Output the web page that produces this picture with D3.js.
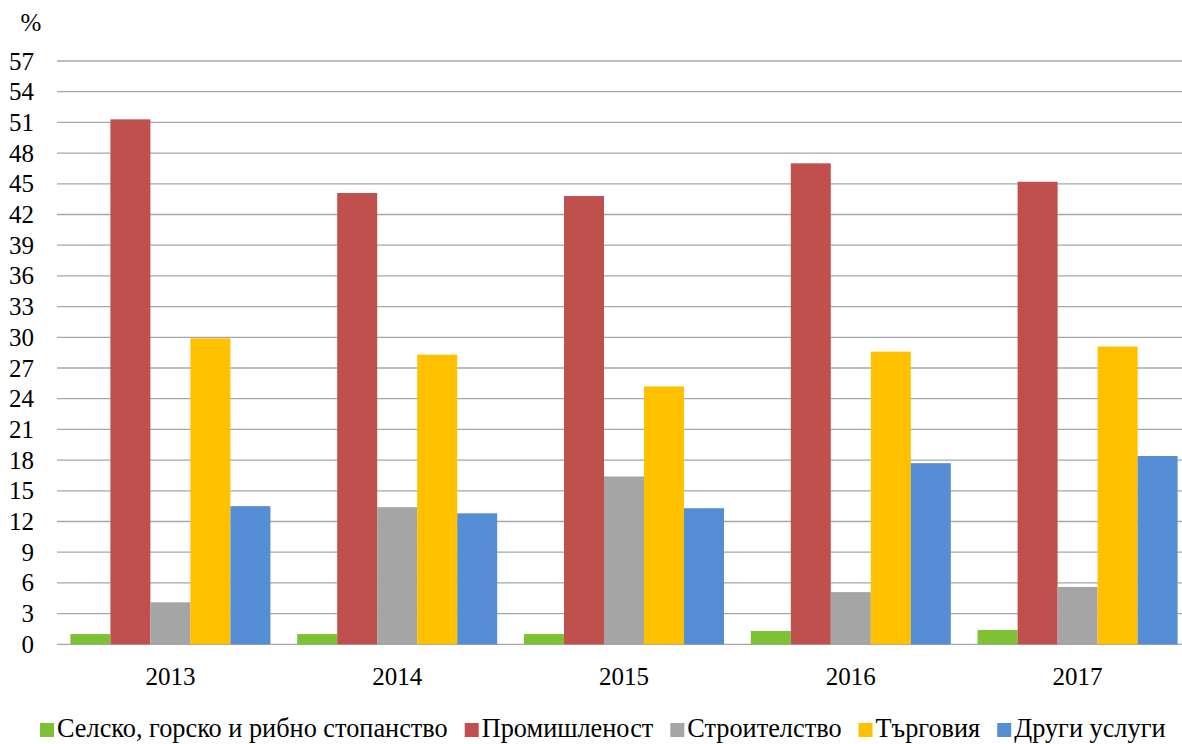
<!DOCTYPE html>
<html>
<head>
<meta charset="utf-8">
<script src="https://cdn.jsdelivr.net/npm/d3@7"></script>
<style>
  body { margin: 0; background: #fff; }
</style>
</head>
<body>
<div id="graph-container"></div>
<script>
const years = ["2013", "2014", "2015", "2016", "2017"];
const seriesNames = [
  "Селско, горско и рибно стопанство",
  "Промишленост",
  "Строителство",
  "Търговия",
  "Други услуги",
];
const agriculture = [1.0, 1.0, 1.0, 1.3, 1.4];
const industry = [51.3, 44.1, 43.8, 47.0, 45.2];
const construction = [4.1, 13.4, 16.4, 5.1, 5.6];
const trade = [29.9, 28.3, 25.2, 28.6, 29.1];
const otherServices = [13.5, 12.8, 13.3, 17.7, 18.4];
const yTicks = [0, 3, 6, 9, 12, 15, 18, 21, 24, 27, 30, 33, 36, 39, 42, 45, 48, 51, 54, 57];
const colors = ["#7dc234", "#c0504d", "#a5a5a5", "#ffc000", "#558ed5"];

const allSeries = [agriculture, industry, construction, trade, otherServices];

const width = 1182;
const height = 744;
const plot = { left: 57, right: 1191, top: 61, bottom: 644.3 };
const serif = "'Liberation Serif', 'DejaVu Serif', serif";

const svg = d3
  .select("#graph-container")
  .append("svg")
  .attr("width", width)
  .attr("height", height)
  .attr("font-family", serif)
  .style("font-family", serif);

const x = d3
  .scaleBand()
  .domain(years)
  .range([plot.left, plot.right])
  .paddingInner(0.118)
  .paddingOuter(0.059);

const xInner = d3
  .scaleBand()
  .domain(d3.range(seriesNames.length))
  .range([0, x.bandwidth()]);

const y = d3.scaleLinear().domain([0, 57]).range([plot.bottom, plot.top]);

//gridlines
svg
  .append("g")
  .selectAll("line")
  .data(yTicks)
  .enter()
  .append("line")
  .attr("x1", plot.left)
  .attr("x2", width)
  .attr("y1", (d) => y(d))
  .attr("y2", (d) => y(d))
  .attr("stroke", "#a6a6a6")
  .attr("stroke-width", 1.3);

//y labels
svg
  .append("g")
  .selectAll("text")
  .data(yTicks)
  .enter()
  .append("text")
  .attr("x", 34)
  .attr("y", (d) => y(d))
  .attr("dy", "0.34em")
  .attr("text-anchor", "end")
  .attr("font-size", 25)
  .text((d) => d);

svg
  .append("text")
  .attr("x", 31)
  .attr("y", 31)
  .attr("text-anchor", "middle")
  .attr("font-size", 25)
  .text("%");

//bars
const groups = svg
  .append("g")
  .selectAll("g")
  .data(years)
  .enter()
  .append("g")
  .attr("transform", (d) => `translate(${x(d)},0)`);

groups
  .selectAll("rect")
  .data((d, i) => allSeries.map((s, k) => ({ k: k, v: s[i] })))
  .enter()
  .append("rect")
  .attr("x", (d) => xInner(d.k))
  .attr("width", xInner.bandwidth())
  .attr("y", (d) => y(d.v))
  .attr("height", (d) => y(0) - y(d.v))
  .attr("fill", (d) => colors[d.k]);

//year labels
svg
  .append("g")
  .selectAll("text")
  .data(years)
  .enter()
  .append("text")
  .attr("x", (d) => x(d) + x.bandwidth() / 2)
  .attr("y", 685)
  .attr("text-anchor", "middle")
  .attr("font-size", 25)
  .text((d) => d);

//legend
const legend = svg.append("g");
let lx = 40;
seriesNames.forEach((name, i) => {
  legend
    .append("rect")
    .attr("x", lx)
    .attr("y", 723)
    .attr("width", 14)
    .attr("height", 14)
    .attr("fill", colors[i]);
  const t = legend
    .append("text")
    .attr("x", lx + 17)
    .attr("y", 737)
    .attr("font-size", 26.3)
    .text(name);
  lx += 17 + t.node().getComputedTextLength() + 17;
});
</script>
</body>
</html>
